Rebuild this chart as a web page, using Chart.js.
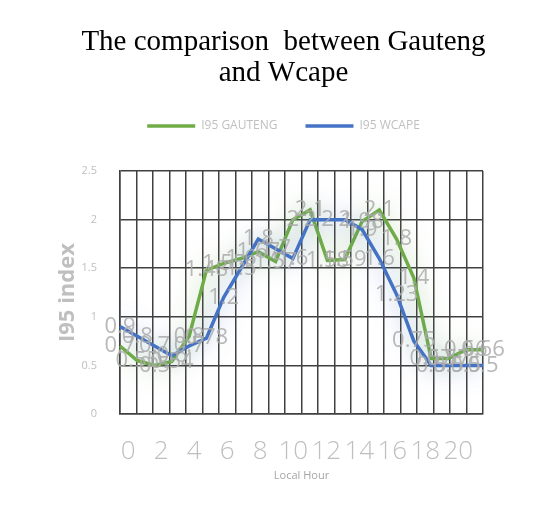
<!DOCTYPE html>
<html>
<head>
<meta charset="utf-8">
<script src="https://cdn.jsdelivr.net/npm/chart.js@4/dist/chart.umd.min.js"></script>
<style>
  html, body { margin: 0; padding: 0; background: #ffffff; }
  #wrap { width: 545px; height: 513px; }
</style>
</head>
<body>
<div id="wrap"><canvas id="c" width="545" height="513"></canvas></div>
<script>
// Hourly I95 index, one value per local hour
const hours = ['0','1','2','3','4','5','6','7','8','9','10','11','12','13','14','15','16','17','18','19','20','21'];
const gauteng = [0.7, 0.55, 0.5, 0.54, 0.8, 1.48, 1.55, 1.6, 1.67, 1.57, 2, 2.1, 1.58, 1.59, 1.98, 2.1, 1.8, 1.4, 0.57, 0.57, 0.66, 0.66];
const wcape   = [0.9, 0.8, 0.7, 0.6, 0.7, 0.78, 1.2, 1.5, 1.8, 1.7, 1.6, 2, 2, 2, 1.9, 1.6, 1.23, 0.75, 0.5, 0.5, 0.5, 0.5];
const yTicks  = [0, 0.5, 1, 1.5, 2, 2.5];

const GREEN = '#70AD47';
const BLUE  = '#4472C4';
const GRID  = '#404040';
const LIGHT = '#bfbfbf';

// Soft halo behind each series line
const glowPlugin = {
  id: 'glow',
  beforeDatasetDraw(chart, args) {
    const ds = chart.data.datasets[args.index];
    const ctx = chart.ctx;
    ctx.save();
    ctx.shadowColor = ds.glowColor;
    ctx.shadowBlur = 24;
    ctx.shadowOffsetX = 0;
    ctx.shadowOffsetY = 0;
  },
  afterDatasetDraw(chart) {
    chart.ctx.restore();
  }
};

// Value labels centred on every point
const valueLabels = {
  id: 'valueLabels',
  afterDatasetsDraw(chart) {
    const ctx = chart.ctx;
    ctx.save();
    ctx.font = '22px "Open Sans", sans-serif';
    ctx.fillStyle = 'rgba(170,170,170,0.85)';
    ctx.textAlign = 'center';
    ctx.textBaseline = 'middle';
    chart.data.datasets.forEach((ds, di) => {
      const meta = chart.getDatasetMeta(di);
      meta.data.forEach((pt, i) => {
        ctx.fillText(String(ds.data[i]), pt.x, pt.y);
      });
    });
    ctx.restore();
  }
};

// Title and legend sit centred on the whole chart frame rather than the padded box
const headerShift = {
  id: 'headerShift',
  afterLayout(chart) {
    const dx = 27;
    [chart.titleBlock, chart.legend].forEach(b => {
      if (b) { b.left += dx; b.right += dx; }
    });
  }
};

new Chart(document.getElementById('c'), {
  type: 'line',
  data: {
    labels: hours,
    datasets: [
      {
        label: 'I95 GAUTENG',
        data: gauteng,
        borderColor: GREEN,
        backgroundColor: GREEN,
        glowColor: 'rgba(112,173,71,0.7)',
        borderWidth: 3.5,
        pointRadius: 0,
        tension: 0,
        order: 1
      },
      {
        label: 'I95 WCAPE',
        data: wcape,
        borderColor: BLUE,
        backgroundColor: BLUE,
        glowColor: 'rgba(68,114,196,0.7)',
        borderWidth: 3.5,
        pointRadius: 0,
        tension: 0,
        order: 0
      }
    ]
  },
  plugins: [glowPlugin, valueLabels, headerShift],
  options: {
    responsive: false,
    animation: false,
    layout: { padding: { left: 30, right: 62, top: 0, bottom: 20 } },
    plugins: {
      tooltip: { enabled: false },
      title: {
        display: true,
        text: ['The comparison  between Gauteng', 'and Wcape'],
        color: '#000000',
        font: { family: '"Liberation Serif", "Times New Roman", serif', size: 29, weight: 'normal', lineHeight: 1.07 },
        padding: { top: 27, bottom: 3 }
      },
      legend: {
        display: true,
        labels: {
          usePointStyle: true,
          pointStyle: 'line',
          pointStyleWidth: 48,
          padding: 28,
          color: LIGHT,
          font: { family: '"Open Sans", sans-serif', size: 12 },
          sort: (a, b) => a.datasetIndex - b.datasetIndex
        }
      }
    },
    scales: {
      // spacer between the legend and the plot area
      gap: {
        type: 'category',
        position: 'top',
        display: true,
        grid: { display: false, drawTicks: false },
        border: { display: false },
        ticks: { display: false },
        afterFit(scale) { scale.height = 29; }
      },
      x: {
        offset: true,
        grid: { display: true, offset: true, color: GRID, lineWidth: 1.5, drawTicks: false },
        border: { display: true, color: GRID, width: 1.5 },
        afterFit(scale) { scale.height = 79; },
        ticks: {
          autoSkip: false,
          maxRotation: 0,
          minRotation: 0,
          padding: 22,
          color: LIGHT,
          font: { family: '"Open Sans", sans-serif', size: 26, weight: 300 },
          callback(value, index) { return index % 2 === 0 ? hours[index] : ''; }
        },
        title: {
          display: true,
          text: 'Local Hour',
          color: '#a6a6a6',
          font: { family: '"Open Sans", sans-serif', size: 11 },
          padding: { top: 0, bottom: 11 }
        }
      },
      y: {
        min: yTicks[0],
        max: yTicks[yTicks.length - 1],
        afterBuildTicks(scale) { scale.ticks = yTicks.map(v => ({ value: v })); },
        afterFit(scale) { scale.width = 90; },
        grid: { display: true, color: GRID, lineWidth: 1.5, drawTicks: false },
        border: { display: true, color: GRID, width: 1.5 },
        ticks: {
          padding: 23,
          color: LIGHT,
          font: { family: '"Open Sans", sans-serif', size: 11 },
          callback(value) { return String(value); }
        },
        title: {
          display: true,
          text: 'I95 index',
          color: LIGHT,
          font: { family: '"Open Sans", sans-serif', size: 22, weight: 'bold' },
          padding: { top: 25, bottom: 0 }
        }
      }
    }
  }
});
</script>
</body>
</html>
